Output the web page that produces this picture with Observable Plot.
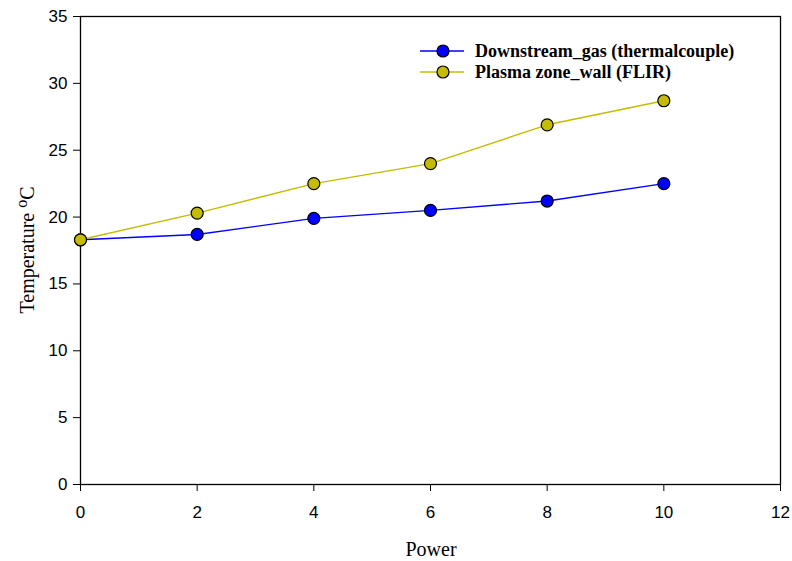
<!DOCTYPE html>
<html><head><meta charset="utf-8">
<script src="https://cdn.jsdelivr.net/npm/d3@7"></script>
<script src="https://cdn.jsdelivr.net/npm/@observablehq/plot@0.6"></script>
<style>
body{margin:0;background:#fff;}
#wrap{position:relative;width:792px;height:561px;}
</style></head><body><div id="wrap"></div>
<script>
const power = [0, 2, 4, 6, 8, 10];
const downstreamGas = [18.3, 18.7, 19.9, 20.5, 21.2, 22.5];
const plasmaWall = [18.3, 20.3, 22.5, 24.0, 26.9, 28.7];
const seriesNames = ["Downstream_gas (thermalcouple)", "Plasma zone_wall (FLIR)"];
const seriesColors = ["#0000ff", "#c4bc00"];
const xTicks = [0, 2, 4, 6, 8, 10, 12];
const yTicks = [0, 5, 10, 15, 20, 25, 30, 35];

const rows = [];
[downstreamGas, plasmaWall].forEach((vals, s) => {
  power.forEach((p, i) => rows.push({series: seriesNames[s], x: p, y: vals[i]}));
});

const chart = Plot.plot({
  width: 792, height: 561,
  marginLeft: 80, marginRight: 12, marginTop: 16, marginBottom: 77,
  style: {fontFamily: "Liberation Sans, Arial, sans-serif", fontSize: "17px", color: "#000"},
  x: {domain: [0, 12], ticks: xTicks, tickSize: 7, tickPadding: 14, label: null},
  y: {domain: [0, 35], ticks: yTicks, tickSize: 7, tickPadding: 6, label: null},
  color: {domain: seriesNames, range: seriesColors},
  marks: [
    Plot.frame({stroke: "#000", strokeWidth: 1.3}),
    Plot.line(rows, {x: "x", y: "y", z: "series", stroke: "series", strokeWidth: 1.4}),
    Plot.dot(rows, {x: "x", y: "y", fill: "series", stroke: "#000", strokeWidth: 1.2, r: 6})
  ]
});
document.getElementById("wrap").appendChild(chart);

const svg = d3.select(chart);
// axis titles
svg.append("text").attr("x", 431).attr("y", 556).attr("text-anchor", "middle")
  .attr("font-family", "Liberation Serif, Times New Roman, serif").attr("font-size", 20).text("Power");
const yt = svg.append("text").attr("transform", "translate(34,250) rotate(-90)").attr("text-anchor", "middle")
  .attr("font-family", "Liberation Serif, Times New Roman, serif").attr("font-size", 20);
yt.append("tspan").text("Temperature ");
yt.append("tspan").attr("dy", -7).attr("font-size", 16).text("o");
yt.append("tspan").attr("dy", 7).text("C");

// legend
const lg = svg.append("g").attr("font-family", "Liberation Serif, Times New Roman, serif")
  .attr("font-weight", "bold").attr("font-size", 18).attr("text-anchor", "start");
seriesNames.forEach((name, i) => {
  const y = 51 + i * 21;
  lg.append("line").attr("x1", 420).attr("x2", 464).attr("y1", y).attr("y2", y)
    .attr("stroke", seriesColors[i]).attr("stroke-width", 1.4);
  lg.append("circle").attr("cx", 443).attr("cy", y).attr("r", 6)
    .attr("fill", seriesColors[i]).attr("stroke", "#000").attr("stroke-width", 1.2);
  lg.append("text").attr("x", 475).attr("y", y + 6).attr("text-anchor", "start").text(name);
});
</script></body></html>
